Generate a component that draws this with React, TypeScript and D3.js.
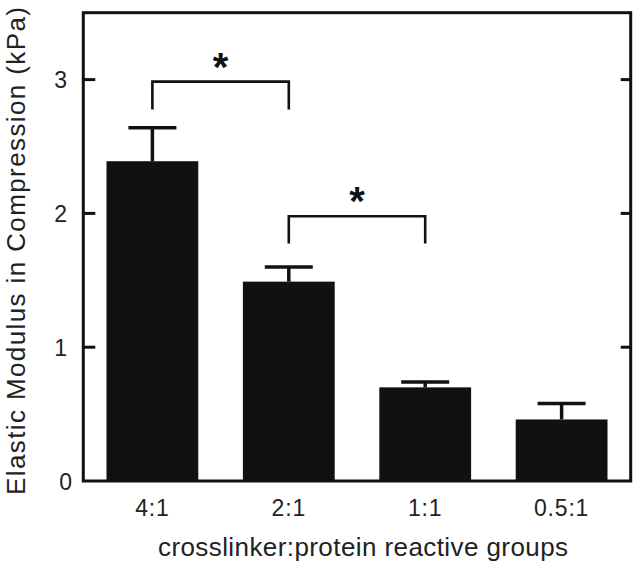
import React from "react";
import * as d3 from "d3";

const categories = ["4:1", "2:1", "1:1", "0.5:1"];
const means = [2.39, 1.49, 0.70, 0.46];
const errors = [0.25, 0.11, 0.04, 0.12];
const yTicks = [0, 1, 2, 3];
const brackets = [
  { from: "4:1", to: "2:1", top: 2.985, bottom: 2.776, label: "*" },
  { from: "2:1", to: "1:1", top: 1.979, bottom: 1.775, label: "*" },
];
const xTitle = "crosslinker:protein reactive groups";
const yTitle = "Elastic Modulus in Compression (kPa)";

const W = 637;
const H = 566;
const L = 83.3;
const R = 630.7;
const T = 12.7;
const B = 481;
const font = "'Liberation Sans', Arial, Helvetica, sans-serif";

export default function App() {
  const x = d3
    .scaleBand<string>()
    .domain(categories)
    .range([L, R])
    .paddingInner(0.327)
    .paddingOuter(0.17);
  const y = d3.scaleLinear().domain([0, 3.5]).range([B, T]);
  const bw = x.bandwidth();
  const cx = (c: string) => (x(c) as number) + bw / 2;
  const capW = 48;

  return (
    <svg
      width={W}
      height={H}
      style={{ position: "absolute", left: 0, top: 0, background: "#fff" }}
    >
      <rect x={0} y={0} width={W} height={H} fill="#fff" />
      {categories.map((c, i) => (
        <g key={c}>
          <rect
            x={x(c)}
            y={y(means[i])}
            width={bw}
            height={B - y(means[i])}
            fill="#111"
          />
          <line
            x1={cx(c)}
            x2={cx(c)}
            y1={y(means[i])}
            y2={y(means[i] + errors[i])}
            stroke="#111"
            strokeWidth={3.5}
          />
          <line
            x1={cx(c) - capW / 2}
            x2={cx(c) + capW / 2}
            y1={y(means[i] + errors[i])}
            y2={y(means[i] + errors[i])}
            stroke="#111"
            strokeWidth={3.5}
          />
          <text
            x={cx(c)}
            y={516}
            textAnchor="middle"
            fontFamily={font}
            fontSize={23}
            letterSpacing={0.8}
            fill="#222"
          >
            {c}
          </text>
        </g>
      ))}
      {/* frame */}
      <rect
        x={L}
        y={T}
        width={R - L}
        height={B - T}
        fill="none"
        stroke="#111"
        strokeWidth={3}
      />
      {yTicks.map((t) => (
        <g key={t}>
          {t > 0 && (
            <>
              <line x1={L} x2={L + 12} y1={y(t)} y2={y(t)} stroke="#111" strokeWidth={3} />
              <line x1={R} x2={R - 10} y1={y(t)} y2={y(t)} stroke="#111" strokeWidth={3} />
            </>
          )}
          <text
            x={t === 0 ? 72 : 67}
            y={y(t) + 8.5}
            textAnchor="end"
            fontFamily={font}
            fontSize={23}
            fill="#222"
          >
            {t}
          </text>
        </g>
      ))}
      {brackets.map((b, i) => {
        const x1 = cx(b.from);
        const x2 = cx(b.to);
        const path = d3.path();
        path.moveTo(x1, y(b.bottom));
        path.lineTo(x1, y(b.top));
        path.lineTo(x2, y(b.top));
        path.lineTo(x2, y(b.bottom));
        return (
          <g key={i}>
            <path d={path.toString()} fill="none" stroke="#111" strokeWidth={2.6} />
            <text
              x={(x1 + x2) / 2}
              y={y(b.top) - 1}
              textAnchor="middle"
              fontFamily={font}
              fontWeight="bold"
              fontSize={40}
              fill="#111"
            >
              {b.label}
            </text>
          </g>
        );
      })}
      <text
        x={363}
        y={556}
        textAnchor="middle"
        fontFamily={font}
        fontSize={26}
        textLength={410}
        lengthAdjust="spacing"
        fill="#222"
      >
        {xTitle}
      </text>
      <text
        transform={`translate(25,251) rotate(-90)`}
        textAnchor="middle"
        fontFamily={font}
        fontSize={26}
        textLength={488}
        lengthAdjust="spacing"
        fill="#222"
      >
        {yTitle}
      </text>
    </svg>
  );
}
